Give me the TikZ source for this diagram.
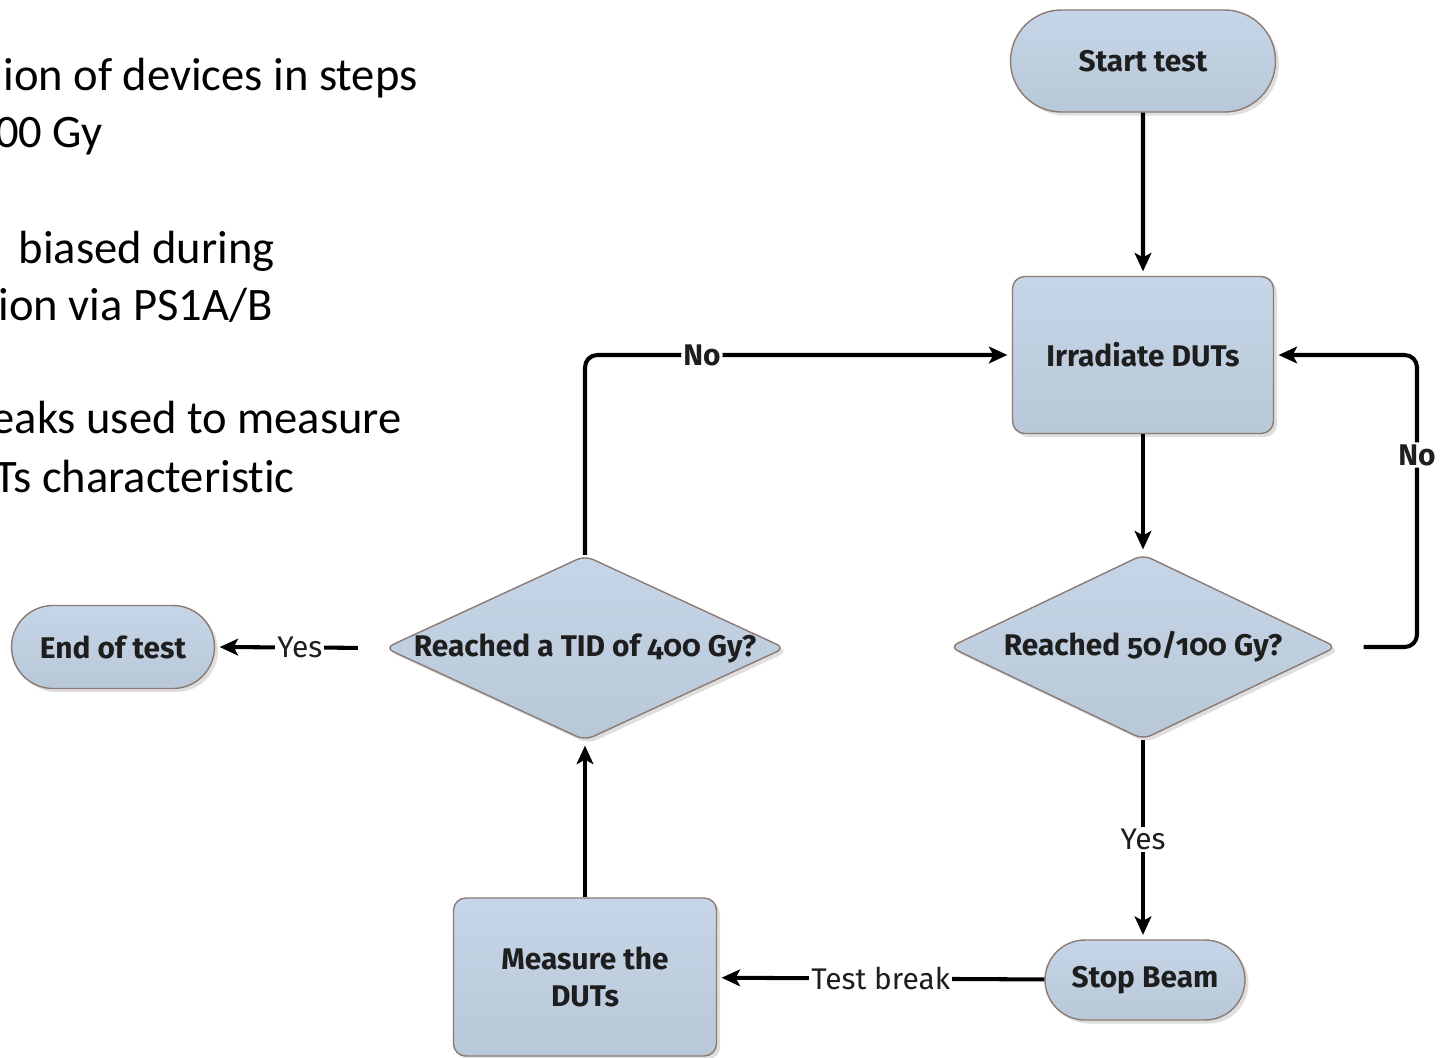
\documentclass[tikz,border=0pt]{standalone}
\usepackage{fontspec}
\setmainfont{Carlito}[Ligatures=NoCommon]
\newfontfamily\flowfont[Numbers=OldStyle]{Fira Sans}
\usetikzlibrary{shapes.geometric,shapes.misc,arrows.meta,shadows}
\definecolor{boxtop}{RGB}{198,214,232}
\definecolor{boxbot}{RGB}{184,200,216}
\definecolor{boxline}{RGB}{140,122,116}
\definecolor{txt}{RGB}{30,30,30}
\begin{document}
\begin{tikzpicture}[x=0.02cm,y=-0.02cm,
  shapebase/.style={draw=boxline, line width=0.8pt, top color=boxtop, bottom color=boxbot,
    drop shadow={shadow xshift=2pt, shadow yshift=-2pt, opacity=0.25, fill=gray},
    text=txt, align=center, inner sep=0pt,
    font=\flowfont\bfseries\fontsize{17}{21}\selectfont},
  term/.style={shapebase, rounded rectangle},
  procbox/.style={shapebase, rectangle, rounded corners=7pt},
  decision/.style={shapebase, diamond, rounded corners=5pt},
  dtext/.style={text=txt, inner sep=0pt, font=\flowfont\bfseries\fontsize{17}{21}\selectfont},
  arr/.style={line width=2.3pt, -{Stealth[length=10.5pt,width=9.5pt,inset=2.5pt]}, shorten >=2.5pt},
  lbl/.style={fill=white, inner sep=1.2pt, text=txt, font=\flowfont\fontsize{17}{19}\selectfont},
  lblb/.style={lbl, font=\flowfont\bfseries\fontsize{17}{19}\selectfont},
  bul/.style={anchor=base east, inner sep=0pt, text=black, font=\fontsize{26.5}{32}\selectfont}
]
\useasboundingbox (0,0) rectangle (1451,1058);
\fill[white] (0,0) rectangle (1451,1058);
\clip (0,0) rectangle (1451,1058);

% left bullet text (partly cut by the left edge, as in the reference)
\node[bul] (t1) at (418,90)  {ion of devices in steps};
\node[bul] (t2) at (103,147) {00 Gy};
\node[bul] (t3) at (275,263) {biased during};
\node[bul] (t4) at (273,320) {ion via PS1A/B};
\node[bul] (t5) at (402,433) {eaks used to measure};
\node[bul] (t6) at (295,492) {Ts characteristic};

% flowchart nodes
\node[term, minimum width=265*0.02cm, minimum height=102*0.02cm] (start) at (1143,61) {Start test};
\node[procbox, minimum width=261*0.02cm, minimum height=157*0.02cm] (irr) at (1143,355) {Irradiate DUTs};
\node[decision, minimum width=387*0.02cm, minimum height=185*0.02cm] (d1) at (1143,647) {};
\node[dtext] (d1t) at (d1) {Reached 50/100 Gy?};
\node[term, minimum width=200*0.02cm, minimum height=80*0.02cm] (stop) at (1145,980) {Stop Beam};
\node[procbox, minimum width=263*0.02cm, minimum height=158*0.02cm] (meas) at (585,977) {Measure the\\DUTs};
\node[decision, minimum width=400*0.02cm, minimum height=185*0.02cm] (d2) at (585,648) {};
\node[dtext] (d2t) at (d2) {Reached a TID of 400 Gy?};
\node[term, minimum width=203*0.02cm, minimum height=83*0.02cm] (endt) at (113,647) {End of test};

\coordinate (rc) at (1417,455);

% connectors
\draw[arr] (start) -- (irr);
\draw[arr] (irr) -- (d1);
\draw[arr] (d1.south) -- node[lbl]{Yes} (d1.south |- stop.north);
\draw[arr] (stop) -- node[lbl]{Test break} (meas);
\draw[arr] (meas) -- (d2);
\draw[arr, rounded corners=7pt] (d2.north) |- node[lblb, pos=0.637]{No} (irr.west);
\draw[arr, shorten <=15pt] (d2.west) -- node[lbl, pos=0.5]{Yes} (endt.east);
\draw[arr, shorten <=15pt, rounded corners=7pt] (d1.east) -| (rc) node[lblb]{No} |- (irr.east);
\end{tikzpicture}
\end{document}
